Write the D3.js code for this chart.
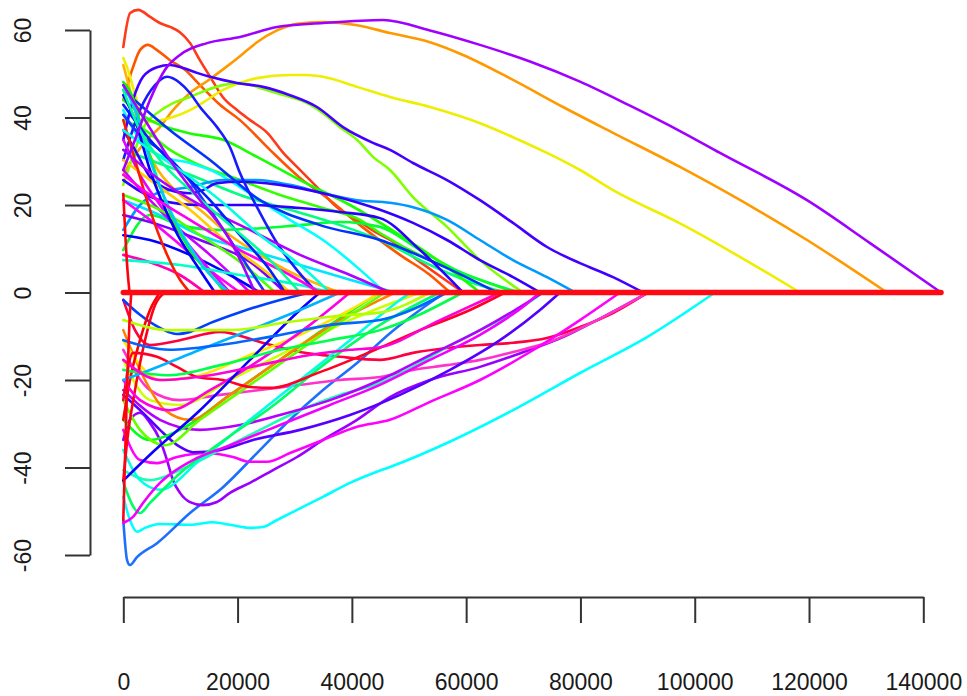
<!DOCTYPE html>
<html>
<head>
<meta charset="utf-8">
<script src="https://cdn.jsdelivr.net/npm/d3@7"></script>
<style>
  html, body { margin: 0; padding: 0; background: #fff; }
  svg { display: block; }
</style>
</head>
<body>
<svg id="chart" width="967" height="696"></svg>
<script>
// Axis ticks
const xTicks = [0, 20000, 40000, 60000, 80000, 100000, 120000, 140000];
const yTicks = [-60, -40, -20, 0, 20, 40, 60];

// Largest x reached by the coefficient paths (all sit at 0 from their entry point to here)
const xEnd = 143100;

// Colour of each coefficient path
const pathColors = [
  "#ff3a1a", "#ff5500", "#ff9900", "#ffb300", "#eeee00", "#80ff00", "#33ff00", "#00ff33",
  "#00ff80", "#1aff00", "#00ffff", "#00e5ff", "#0099ff", "#3300ff", "#0033ff", "#2b00ff",
  "#4400ff", "#1a1aff", "#ff00ff", "#cc00ff", "#8000ff", "#0000ff", "#ff00b3", "#e600ff",
  "#4dff00", "#ffcc00", "#00ffcc", "#ff1a00", "#1a33ff", "#00ff00", "#00ccff", "#0000ff",
  "#b000ff", "#ff00ee", "#0020ff", "#00ffe0", "#00ff99", "#a600ff",
  "#9f00ff",
  "#00ffff", "#1f6fff", "#9900ff", "#ff0040", "#ff33cc", "#ff00ff", "#1affb3", "#b300ff",
  "#5500ff", "#0040ff", "#00ff1a", "#ccff00", "#ff8000", "#00ffe6", "#00ff66", "#ffe600",
  "#66ff00", "#ff0000", "#ff0019", "#ff0026", "#ff00e6", "#f200ff", "#0d00ff", "#00b3ff",
  "#0066ff", "#00ff4d", "#b3ff00", "#ff00d9", "#ff0014", "#ff000d"
];

// Coefficient paths: [x, coefficient] pairs, ending where each path reaches 0
const pathPoints = [
  [[0,56.1],[1200,63.9],[2600,64.6],[4700,63.0],[6400,61.6],[8200,60.7],[9900,59.5],[11700,57.0],[13400,53.1],[15200,49.3],[17400,44.7],[19900,41.7],[22200,39.4],[25200,36.5],[28000,31.9],[30400,28.7],[33900,24.1],[37400,19.5],[40900,16.6],[44400,13.6],[46700,12.0],[51900,7.0],[56300,2.9],[59500,0]],
  [[0,44.0],[1700,51.5],[2920,55.4],[4320,56.6],[5900,55.4],[8170,53.1],[10800,50.9],[13420,47.4],[16920,42.9],[20420,39.4],[25670,32.6],[30920,26.2],[36170,21.1],[41420,15.4],[48420,8.6],[53670,4.0],[57170,0]],
  [[0,26.9],[2050,31.4],[4150,34.9],[6420,37.8],[8700,41.7],[11670,45.6],[14650,48.3],[17450,51.0],[20420,54.0],[23400,57.2],[26900,59.9],[30400,61.4],[34950,61.8],[40900,61.1],[46670,59.3],[53670,57.2],[59450,54.3],[68200,48.6],[76950,42.4],[85700,36.5],[97420,28.7],[119650,12.0],[133650,0]],
  [[0,52.0],[1170,46.3],[2920,37.1],[5550,29.1],[9050,23.4],[13420,18.9],[18670,13.1],[23920,8.6],[29170,4.7],[34420,1.7],[37920,0]],
  [[0,53.6],[650,51.5],[1700,46.9],[2920,41.7],[3970,39.0],[5900,39.2],[8700,40.1],[11670,41.7],[14650,44.0],[17450,46.3],[20420,47.9],[23400,49.0],[29170,49.7],[32150,49.7],[34950,49.3],[40900,47.0],[46670,44.7],[53670,42.4],[62420,38.7],[68200,35.5],[74150,31.9],[79920,28.0],[85700,23.4],[97420,15.8],[118420,0]],
  [[0,24.6],[2050,32.6],[3800,38.3],[5900,41.0],[8700,43.3],[11670,44.7],[14650,46.3],[17450,47.4],[20420,47.9],[23400,47.0],[26200,45.8],[29170,44.7],[32150,43.3],[34950,41.0],[37920,37.8],[40900,34.9],[43700,31.0],[46670,28.0],[50700,21.8],[56650,15.0],[62420,7.4],[69950,0]],
  [[0,39.4],[3800,37.1],[8170,32.6],[13420,29.1],[20420,25.7],[27420,22.3],[34420,19.5],[41420,16.6],[44920,13.6],[53670,7.4],[62420,2.9],[68550,0]],
  [[0,9.7],[4670,17.7],[9920,15.4],[16920,14.3],[23920,14.7],[30920,15.4],[37920,16.1],[44920,15.0],[51920,9.7],[58920,4.7],[69420,0]],
  [[0,32.6],[4670,30.3],[11670,26.9],[20420,22.3],[29170,18.9],[37920,15.4],[44920,12.0],[53670,6.3],[60670,2.4],[66800,0]],
  [[0,44.0],[4670,39.4],[11150,36.5],[17450,34.9],[23400,31.0],[30920,25.7],[39670,20.0],[48420,13.1],[55420,7.0],[62420,0]],
  [[0,41.7],[2920,34.9],[6950,31.0],[11670,29.6],[16400,27.3],[20420,24.1],[25670,19.5],[29170,16.6],[34950,12.0],[40900,5.8],[45800,0]],
  [[0,21.1],[6420,17.7],[13420,13.1],[22170,9.7],[30920,6.3],[39670,2.9],[47550,0]],
  [[0,14.3],[2920,20.0],[5900,22.7],[11670,24.1],[17450,25.7],[23400,25.7],[29170,24.6],[34950,22.7],[40900,21.1],[46670,20.5],[50700,19.5],[56650,16.6],[62420,12.0],[68200,7.4],[74150,3.5],[79070,0]],
  [[0,37.1],[2050,32.6],[4670,26.4],[6950,24.1],[9400,23.0],[11670,22.7],[13950,23.4],[16400,25.0],[20420,25.3],[27420,24.6],[36170,22.3],[44920,18.9],[50700,15.9],[56650,12.0],[62420,7.4],[68200,3.5],[72920,0]],
  [[0,46.3],[2920,42.9],[8170,37.1],[15170,30.3],[23920,21.1],[34420,15.4],[44920,12.0],[55420,6.3],[65400,0]],
  [[0,25.7],[6420,21.1],[13420,20.0],[22170,20.0],[30920,19.3],[37920,18.4],[44920,17.0],[51920,9.7],[59450,0]],
  [[0,34.9],[1700,44.0],[3450,49.3],[5900,51.5],[8170,52.0],[10450,51.3],[12900,50.2],[15170,49.3],[19900,47.9],[24450,47.0],[29170,45.1],[33900,42.4],[38450,37.8],[43700,34.2],[46670,32.6],[50700,29.6],[56650,25.7],[62420,21.1],[68200,15.9],[74150,10.4],[79920,6.7],[85700,3.5],[90950,0]],
  [[0,30.3],[2920,41.7],[5550,47.4],[7650,49.3],[9920,47.9],[11670,45.6],[13420,42.4],[16400,37.8],[18670,33.2],[20420,27.3],[23400,19.5],[26900,11.3],[30400,5.1],[33900,0]],
  [[0,21.1],[4670,16.6],[9920,10.9],[15170,5.1],[20420,0]],
  [[0,28.0],[3800,22.3],[9050,15.4],[15170,8.6],[22170,0]],
  [[0,17.7],[6420,15.4],[13420,12.0],[22170,7.0],[28300,0]],
  [[0,13.1],[4670,12.0],[11670,8.6],[18670,4.0],[23920,0]],
  [[0,8.6],[4670,6.9],[9920,4.0],[14300,0]],
  [[0,34.9],[2920,26.9],[6420,20.0],[10800,12.0],[15170,5.1],[18670,0]],
  [[0,22.3],[6420,18.9],[13420,13.1],[20420,7.0],[26550,0]],
  [[0,30.3],[4670,25.7],[11670,18.9],[18670,10.9],[25670,4.0],[29170,0]],
  [[0,7.4],[9920,6.3],[20420,4.0],[30920,1.7],[36170,0]],
  [[0,39.4],[2050,30.3],[4670,18.9],[7300,9.7],[9920,2.9],[11670,0]],
  [[0,40.6],[2920,36.0],[6420,32.6],[10800,26.9],[15170,18.9],[20420,8.6],[24800,0]],
  [[0,48.1],[1500,45.1],[3800,34.9],[7300,21.1],[11670,9.7],[16050,2.9],[17800,0]],
  [[0,47.4],[2050,41.7],[4670,30.3],[8170,18.9],[12550,8.6],[16920,1.7],[18670,0]],
  [[0,45.1],[2050,39.4],[4670,28.0],[9050,14.3],[13420,5.1],[16050,0]],
  [[0,32.6],[6420,25.7],[13420,20.0],[22170,14.3],[30920,8.6],[39670,4.0],[46670,0]],
  [[0,26.9],[4670,22.3],[11670,16.6],[20420,9.7],[29170,4.0],[34420,0]],
  [[0,42.9],[4670,34.9],[9920,28.0],[15170,21.1],[20420,13.1],[25670,5.1],[28300,0]],
  [[0,37.1],[4670,32.6],[9920,28.0],[16920,21.1],[23920,13.1],[30920,6.3],[36170,0]],
  [[0,46.3],[2920,37.1],[6420,30.3],[11670,23.4],[18670,15.4],[25670,7.4],[30920,0]],
  [[0,47.4],[3800,39.4],[8170,30.3],[13420,21.1],[18670,12.0],[23050,0]],
  [[0,28.0],[2050,34.9],[4670,44.0],[7300,50.9],[9920,54.3],[14650,57.0],[20420,58.4],[26900,60.7],[34950,61.6],[45450,62.3],[53670,59.9],[62420,56.6],[71170,52.8],[79920,48.2],[88670,42.7],[97420,36.9],[104420,31.9],[119650,21.1],[130680,11.3],[143100,0]],
  [[0,-46.7],[1170,-52.0],[2400,-54.7],[3800,-53.8],[6420,-52.9],[11670,-53.1],[15700,-52.5],[18670,-53.1],[22170,-53.8],[24450,-53.6],[26900,-52.0],[30400,-49.7],[34950,-46.7],[39670,-43.5],[43700,-41.3],[46670,-39.9],[56650,-34.4],[68200,-26.9],[79920,-18.4],[91650,-10.2],[103550,0]],
  [[0,-52.0],[650,-61.1],[1170,-62.3],[2400,-60.5],[5900,-57.3],[11670,-50.4],[17450,-44.5],[23400,-36.7],[29170,-29.1],[34950,-22.3],[40900,-16.1],[46670,-9.3],[51920,-4.0],[56300,0]],
  [[0,-33.7],[1170,-29.1],[2920,-27.5],[4670,-29.8],[6420,-33.7],[7650,-38.3],[8700,-42.9],[9920,-45.8],[11670,-47.9],[13950,-48.6],[16400,-47.9],[18670,-45.8],[22170,-43.5],[26200,-40.6],[30400,-37.6],[34950,-33.7],[40900,-29.1],[46670,-23.9],[53670,-20.0],[62420,-17.0],[71170,-13.1],[76950,-10.2],[82900,-6.3],[91820,0]],
  [[0,-1.7],[2050,-8.6],[4670,-12.0],[9920,-10.9],[16920,-9.0],[23920,-11.3],[30920,-13.6],[37920,-14.7],[44920,-15.4],[50700,-13.8],[56650,-12.7],[62420,-12.0],[68200,-11.5],[74150,-10.4],[79920,-7.9],[85700,-4.7],[91820,0]],
  [[0,-13.1],[4670,-22.3],[9920,-24.6],[16920,-23.4],[23920,-22.3],[30920,-21.1],[37920,-20.0],[44920,-19.3],[50700,-17.7],[56650,-16.6],[62420,-15.4],[68200,-13.6],[74150,-11.5],[82900,-6.3],[91820,0]],
  [[0,-31.4],[2920,-38.3],[5900,-39.0],[9400,-37.6],[14650,-36.7],[19200,-37.6],[22170,-38.7],[25150,-38.7],[29170,-36.7],[34950,-33.7],[40900,-30.7],[46670,-29.1],[53670,-25.0],[62420,-20.0],[71170,-13.6],[79920,-6.3],[86920,0]],
  [[0,-40.6],[4670,-42.9],[9920,-40.6],[16920,-36.0],[23920,-31.4],[30920,-26.9],[37920,-23.4],[44920,-20.7],[50700,-17.0],[56650,-12.5],[62420,-8.6],[68200,-4.7],[73450,0]],
  [[0,-22.3],[6420,-29.1],[13420,-31.4],[20420,-30.3],[27420,-28.0],[36170,-24.6],[44920,-20.0],[53670,-14.3],[62420,-8.6],[68550,-4.0],[73450,0]],
  [[0,-23.4],[3450,-27.5],[6420,-31.4],[9920,-35.3],[12200,-36.5],[16920,-36.0],[22700,-33.7],[30920,-31.4],[39670,-28.0],[48420,-23.4],[57170,-17.7],[65920,-10.9],[72920,-4.0],[76420,0]],
  [[0,-1.7],[2920,-5.1],[6420,-8.1],[9400,-9.5],[11670,-9.0],[15170,-7.0],[20420,-4.5],[27420,-1.7],[32670,0]],
  [[0,-29.1],[4670,-33.7],[9920,-31.4],[18670,-23.4],[27420,-15.4],[36170,-7.4],[44920,0]],
  [[0,-15.4],[4670,-24.6],[9920,-25.7],[18670,-20.0],[29170,-13.1],[39670,-6.3],[48420,-1.7],[51920,0]],
  [[0,-8.6],[3800,-20.0],[7300,-26.9],[11670,-29.1],[18670,-23.4],[27420,-15.4],[37920,-6.3],[44920,-1.7],[47550,0]],
  [[0,-36.0],[2920,-42.9],[6420,-45.1],[13420,-38.3],[22170,-29.1],[30920,-20.0],[39670,-10.9],[48420,-1.7],[50200,0]],
  [[0,-43.5],[2920,-50.4],[4670,-48.1],[9920,-41.3],[16920,-34.4],[25670,-26.4],[36170,-15.4],[44920,-7.4],[55420,0]],
  [[0,-10.9],[2920,-16.6],[6420,-20.0],[13420,-18.9],[22170,-14.3],[30920,-9.7],[39670,-4.0],[44920,0]],
  [[0,-24.6],[2920,-31.4],[7300,-34.9],[13420,-29.1],[22170,-21.1],[30920,-13.1],[39670,-5.3],[45800,0]],
  [[0,-29.1],[1170,-20.0],[2920,-10.9],[4670,-4.0],[6420,0]],
  [[0,-43.0],[700,-33.7],[2050,-22.3],[3800,-10.9],[5550,-2.9],[7300,0]],
  [[0,-24.6],[1700,-13.8],[5900,-14.7],[9400,-17.0],[12900,-19.3],[17450,-20.0],[22170,-21.6],[25670,-21.8],[34420,-18.2],[43170,-13.6],[51920,-8.6],[60670,-4.0],[66800,0]],
  [[0,-20.0],[2920,-24.6],[8170,-26.9],[15170,-22.3],[23920,-15.4],[32670,-7.4],[39670,0]],
  [[0,-52.7],[1700,-51.3],[3450,-48.1],[6420,-43.5],[9220,-40.6],[12200,-38.3],[18670,-34.9],[27420,-30.3],[36170,-25.7],[44920,-21.1],[53670,-15.4],[62420,-9.7],[70300,-2.9],[72920,0]],
  [[0,-43.0],[4670,-37.1],[13420,-26.9],[22170,-15.4],[30920,-4.0],[34420,0]],
  [[0,-20.0],[4670,-17.7],[13420,-13.1],[22170,-8.6],[30920,-4.0],[37920,0]],
  [[0,-10.9],[8170,-13.1],[16920,-12.0],[27420,-9.7],[36170,-7.4],[44920,-6.3],[56650,0]],
  [[0,-17.7],[8170,-18.9],[16920,-16.6],[27420,-13.1],[36170,-10.9],[44920,-8.6],[59450,0]],
  [[0,-6.3],[8170,-8.6],[18670,-8.6],[29170,-6.7],[37920,-5.3],[44920,-4.6],[53670,0]],
  [[0,-15.4],[6420,-20.0],[15170,-18.9],[23920,-16.6],[32670,-14.3],[39670,-13.1],[44920,-12.5],[55420,-6.3],[65920,0]],
  [[0,-52.0],[300,-38.0],[700,-20.0],[1100,-6.0],[1400,0]],
  [[0,22.5],[400,12.0],[800,4.0],[1100,0]]
];

// The shared run at zero, drawn last and heavier
const zeroRun = [[0, 0], [xEnd, 0]];

const svg = d3.select("#chart");

const x = d3.scaleLinear().domain([0, 140000]).range([123.3, 923.3]);
const y = d3.scaleLinear().domain([-60, 60]).range([555, 30]);

const line = d3.line()
  .x(d => x(d[0]))
  .y(d => y(d[1]))
  .curve(d3.curveMonotoneX);

const paths = svg.append("g").attr("fill", "none")
  .attr("stroke-linejoin", "round").attr("stroke-linecap", "round");

paths.selectAll("path.coef")
  .data(pathPoints)
  .join("path")
  .attr("class", "coef")
  .attr("d", line)
  .attr("stroke", (d, i) => pathColors[i])
  .attr("stroke-width", 2.6);

paths.append("path")
  .datum(zeroRun)
  .attr("d", line)
  .attr("stroke", "#ff0a14")
  .attr("stroke-width", 5.5);

// Axes
const axisColor = "#333";
const fontFamily = "'Liberation Sans', Arial, Helvetica, sans-serif";

const yAxis = svg.append("g")
  .attr("transform", "translate(90,0)")
  .call(d3.axisLeft(y).tickValues(yTicks).tickSize(25).tickSizeOuter(0).tickFormat(d => String(d)));

yAxis.selectAll("text")
  .attr("x", 0)
  .attr("y", -59)
  .attr("dy", 0)
  .attr("transform", "rotate(-90)")
  .attr("text-anchor", "middle");

const xAxis = svg.append("g")
  .attr("transform", "translate(0,597)")
  .call(d3.axisBottom(x).tickValues(xTicks).tickSize(26).tickSizeOuter(0).tickFormat(d => String(d)));

xAxis.selectAll("text")
  .attr("y", 93)
  .attr("dy", 0);

svg.selectAll(".tick text")
  .attr("font-family", fontFamily)
  .attr("font-size", 23)
  .attr("fill", "#1a1a1a");

svg.selectAll(".domain, .tick line")
  .attr("stroke", axisColor)
  .attr("stroke-width", 2);
</script>
</body>
</html>
